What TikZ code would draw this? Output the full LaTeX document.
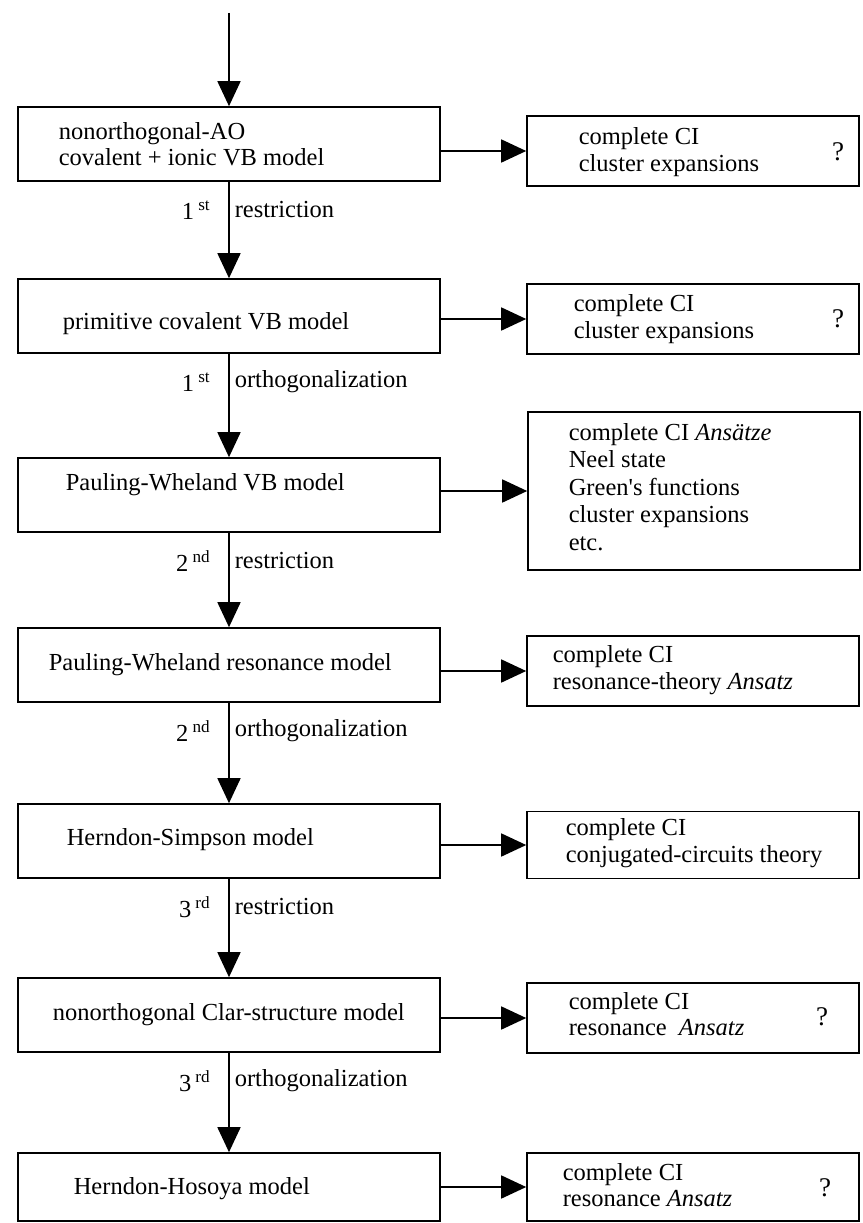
\documentclass[tikz,border=0pt]{standalone}
\usepackage{fontspec}
\setmainfont{Liberation Serif}
\usetikzlibrary{arrows.meta,positioning,calc}

\begin{document}
\begin{tikzpicture}[x=1pt,y=-1pt,line width=1.6pt,
  font=\fontsize{24.5}{26.5}\selectfont,
  every node/.style={inner sep=0pt},
  modelbox/.style={draw,minimum width=422pt,minimum height=74pt},
  ansatzbox/.style={draw,minimum width=332pt,minimum height=70pt},
  boxtext/.style={anchor=west,align=left},
  query/.style={font=\fontsize{27}{30}\selectfont},
  flow/.style={-{Triangle[length=25pt,width=23pt]}}]
\useasboundingbox (0,0) rectangle (862,1223);
% model chain
\node[modelbox] (b1) at (229,144) {};
\node[modelbox] (b2) at (229,316) {};
\node[modelbox] (b3) at (229,495) {};
\node[modelbox] (b4) at (229,665) {};
\node[modelbox] (b5) at (229,841) {};
\node[modelbox] (b6) at (229,1015) {};
\node[modelbox,minimum height=68pt] (b7) at (229,1187) {};
\node[boxtext] (b1t) at (58,144) {nonorthogonal-AO\\covalent + ionic VB model};
\node[boxtext] (b2t) at (62,324) {primitive covalent VB model};
\node[boxtext] (b3t) at (65,485) {Pauling-Wheland VB model};
\node[boxtext] (b4t) at (48,665) {Pauling-Wheland resonance model};
\node[boxtext] (b5t) at (66,840) {Herndon-Simpson model};
\node[boxtext] (b6t) at (52,1015) {nonorthogonal Clar-structure model};
\node[boxtext] (b7t) at (73,1189) {Herndon-Hosoya model};
% solution methods
\node[ansatzbox] (r1) at (693,151) {};
\node[ansatzbox] (r2) at (693,319) {};
\node[ansatzbox,minimum height=158pt] (r3) at (694,491) {};
\node[ansatzbox] (r4) at (693,671) {};
\node[ansatzbox,minimum height=67pt] (r5) at (693,845) {};
\node[ansatzbox] (r6) at (693,1018) {};
\node[ansatzbox,minimum height=68pt] (r7) at (693,1187) {};
\node[boxtext] (r1t) at (578,152) {complete CI\\cluster expansions};
\node[query] (r1q) at (838,152) {?};
\node[boxtext] (r2t) at (573,319) {complete CI\\cluster expansions};
\node[query] (r2q) at (838,319) {?};
\node[boxtext,font=\fontsize{24.5}{27.5}\selectfont] (r3t) at (568,487)
  {complete CI \textit{Ansätze}\\Neel state\\Green\textquotesingle s functions\\cluster expansions\\etc.};
\node[boxtext] (r4t) at (552,670) {complete CI\\resonance-theory \textit{Ansatz}};
\node[boxtext] (r5t) at (565,843) {complete CI\\conjugated-circuits theory};
\node[boxtext] (r6t) at (568,1014) {complete CI\\resonance\ \ \textit{Ansatz}};
\node[query] (r6q) at (822,1017) {?};
\node[boxtext] (r7t) at (562,1185) {complete CI\\resonance \textit{Ansatz}};
\node[query] (r7q) at (825,1188) {?};
% arrows
\coordinate (start) at (229,13);
\draw[flow] (start) -- (b1.north);
\foreach \i/\j in {1/2,2/3,3/4,4/5,5/6,6/7} \draw[flow] (b\i.south) -- (b\j.north);
\foreach \i in {1,...,7} \draw[flow] (b\i.east |- r\i.west) -- (r\i.west);
\foreach \i/\n/\s/\w in {1/1/st/restriction,2/1/st/orthogonalization,3/2/nd/restriction,4/2/nd/orthogonalization,5/3/rd/restriction,6/3/rd/orthogonalization} {
  \node[anchor=east] (n\i) at ([shift={(-18,28)}]b\i.south) {\n\,\textsuperscript{\s}};
  \node[anchor=west] (w\i) at ([shift={(5,28)}]b\i.south) {\w};
}
\end{tikzpicture}
\end{document}
